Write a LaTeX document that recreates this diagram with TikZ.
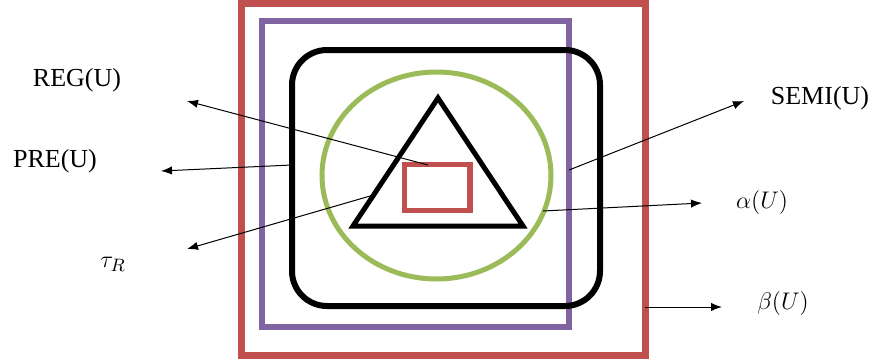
\documentclass[tikz,border=0pt]{standalone}
\usepackage{fontspec}
\setmainfont{Liberation Serif}
\usetikzlibrary{arrows.meta, positioning, shapes.geometric, calc}
\definecolor{vred}{HTML}{C0504D}
\definecolor{vpurple}{HTML}{8064A2}
\definecolor{vgreen}{HTML}{9BBB59}
\tikzset{
  setbox/.style={draw, rectangle, inner sep=0pt, outer sep=0pt},
  lab/.style={font=\fontsize{13}{15}\selectfont, inner sep=0pt},
  arr/.style={-{Latex[length=5.5pt, width=4.2pt]}, line width=0.5pt, black},
}

\begin{document}
\begin{tikzpicture}[x=0.5pt, y=-0.5pt]
  \useasboundingbox (0,0) rectangle (875,360);

  %% nested sets
  \node[setbox, draw=vred, line width=3.5pt, minimum width=201.75pt, minimum height=176pt] (beta) at (443.25,179.5) {};
  \node[setbox, draw=vpurple, line width=3pt, minimum width=153.5pt, minimum height=153pt] (semi) at (415.5,174) {};
  \node[setbox, draw=black, line width=3pt, rounded corners=17.5pt, minimum width=154pt, minimum height=128pt] (pre) at (446,178) {};
  \node[ellipse, draw=vgreen, line width=2.5pt, inner sep=0pt, minimum width=114.5pt, minimum height=103.5pt] (alpha) at (436.5,175.5) {};
  \coordinate (tritop) at (438,98);
  \coordinate (triright) at (523,226);
  \coordinate (trileft) at (353,226);
  \draw[line width=2.5pt] (tritop) -- (triright) -- (trileft) -- cycle;
  \node[setbox, draw=vred, line width=2.75pt, minimum width=32.75pt, minimum height=23pt] (reg) at (437.25,187.5) {};

  %% labels
  \node[lab] (lreg) at (77,80) {REG(U)};
  \node[lab] (lpre) at (55,161) {PRE(U)};
  \node[lab] (ltau) at (113,264) {$\tau_R$};
  \node[lab] (lsemi) at (820,98) {SEMI(U)};
  \node[lab] (lalpha) at (762,202) {$\alpha(U)$};
  \node[lab] (lbeta) at (783,303) {$\beta(U)$};

  %% pointers
  \coordinate (regfoot) at (428,165);
  \coordinate (prefoot) at (292,165);
  \coordinate (taufoot) at ($(trileft)!0.242!(tritop)$);
  \coordinate (semifoot) at (569,170);
  \coordinate (alphafoot) at (543,211);
  \coordinate (betafoot) at (645,307);
  \coordinate (regtip) at (187,101);
  \coordinate (pretip) at (161,171);
  \coordinate (tautip) at (187,249);
  \coordinate (semitip) at (744,101);
  \coordinate (alphatip) at (702,203);
  \coordinate (betatip) at (722,307);
  \draw[arr] (regfoot) -- (regtip);
  \draw[arr] (prefoot) -- (pretip);
  \draw[arr] (taufoot) -- (tautip);
  \draw[arr] (semifoot) -- (semitip);
  \draw[arr] (alphafoot) -- (alphatip);
  \draw[arr] (betafoot) -- (betatip);

\end{tikzpicture}
\end{document}
